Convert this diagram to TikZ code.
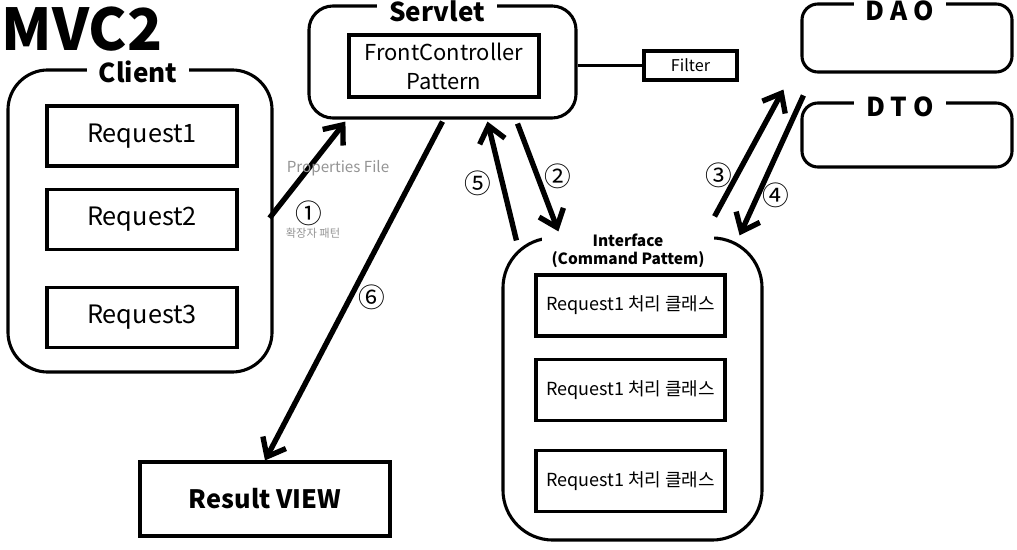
\documentclass[tikz,border=0pt]{standalone}
\usepackage{fontspec}
\setmainfont{Noto Sans CJK KR}
\usetikzlibrary{calc, arrows.meta, positioning}

\begin{document}
\begin{tikzpicture}[x=0.025cm, y=-0.025cm, >={Straight Barb[length=4mm, width=6.5mm]}]
	\tikzstyle{group} = [draw, line width=2.2pt, inner sep=0pt]
	\tikzstyle{title} = [fill=white, inner xsep=0.3cm, inner ysep=1pt, anchor=base, font=\bfseries\fontsize{18.5}{22}\selectfont]
	\tikzstyle{req} = [draw, line width=2.2pt, minimum width=4.75cm, minimum height=1.5cm, inner sep=0pt, font=\fontsize{18}{22}\selectfont]
	\tikzstyle{cmd} = [req, minimum width=4.725cm, minimum height=1.525cm, font=\fontsize{12.8}{15}\selectfont]
	\tikzstyle{num} = [inner sep=0pt, font=\fontsize{19}{19}\selectfont]
	\tikzstyle{note} = [inner sep=0pt, text=black!42]
	\tikzstyle{flow} = [->, line width=3.8pt]

	\useasboundingbox (0,0) rectangle (1017,550);

	\node[inner sep=0pt, font=\bfseries\fontsize{41}{41}\selectfont] at (82,29) (mvc) {MVC2};

	% client side
	\node[group, rounded corners=1cm, minimum width=6.6cm, minimum height=7.55cm] at (140,221) (client) {};
	\node[title] at (138,83) (clientT) {Client};
	\node[req] at (142,136) (req1) {Request1};
	\node[req] at (142,219.5) (req2) {Request2};
	\node[req] at (142,317.5) (req3) {Request3};

	% servlet
	\node[group, rounded corners=0.6cm, minimum width=6.675cm, minimum height=2.8cm] at (442.5,62) (servlet) {};
	\node[title] at (437,22) (servletT) {Servlet};
	\node[req, minimum height=1.55cm, align=center, font=\fontsize{15.6}{20.6}\selectfont] at (444,66) (front) {FrontController\\Pattern};
	\node[req, minimum width=2.325cm, minimum height=0.725cm, font=\fontsize{11.5}{13}\selectfont] at (690.5,65.5) (filter) {Filter};

	% dao / dto
	\node[group, rounded corners=0.4cm, minimum width=5.25cm, minimum height=1.7cm] at (907,38) (dao) {};
	\node[title] at (900,21) (daoT) {D A O};
	\node[group, rounded corners=0.4cm, minimum width=5.25cm, minimum height=1.6cm] at (907,135) (dto) {};
	\node[title] at (900,117) (dtoT) {D T O};

	% command classes
	\node[group, rounded corners=1.25cm, minimum width=6.475cm, minimum height=7.55cm] at (632.5,389) (iface) {};
	\node[title, inner xsep=0.25cm, align=center, font=\bfseries\fontsize{11}{13}\selectfont] at (628,265) (ifaceT) {Interface\\(Command Pattem)};
	\node[cmd] at (630.5,305.5) (cmd1) {Request1 처리 클래스};
	\node[cmd] at (630.5,390) (cmd2) {Request1 처리 클래스};
	\node[cmd] at (630.5,481) (cmd3) {Request1 처리 클래스};

	\node[req, minimum width=6.25cm, minimum height=1.85cm, font=\bfseries\fontsize{18}{22}\selectfont] at (265,499) (result) {Result VIEW};

	\path[line width=2.2pt] (servlet.east |- filter) edge (filter);

	\path[flow]
	($(client.east)+(-4,-3)$)	edge	($(servlet.south west)+(38,2)$)
	($(servlet.south)+(0,2)$)	edge	(result.north)
	($(iface.north west)+(15,4)$)	edge	($(servlet.south)+(45,2)$)
	($(servlet.south)+(75,4)$)	edge	($(iface.north west)+(57,-5)$)
	($(iface.north east)+(-49,-20)$)	edge	($(dao.south west)+(-17,16)$)
	($(dto.north west)+(3,-6)$)	edge	($(iface.north east)+(-24,-1)$);

	\node[num] at (309,213) (n1) {①};
	\node[note, font=\fontsize{10.8}{13}\selectfont] at (338,168) (props) {Properties File};
	\node[note, font=\fontsize{8}{9}\selectfont] at (313,233) (ext) {확장자 패턴};
	\node[num] at (372,297) (n6) {⑥};
	\node[num] at (478,183) (n5) {⑤};
	\node[num] at (558,176) (n2) {②};
	\node[num] at (719,175) (n3) {③};
	\node[num] at (776,195) (n4) {④};
\end{tikzpicture}
\end{document}
